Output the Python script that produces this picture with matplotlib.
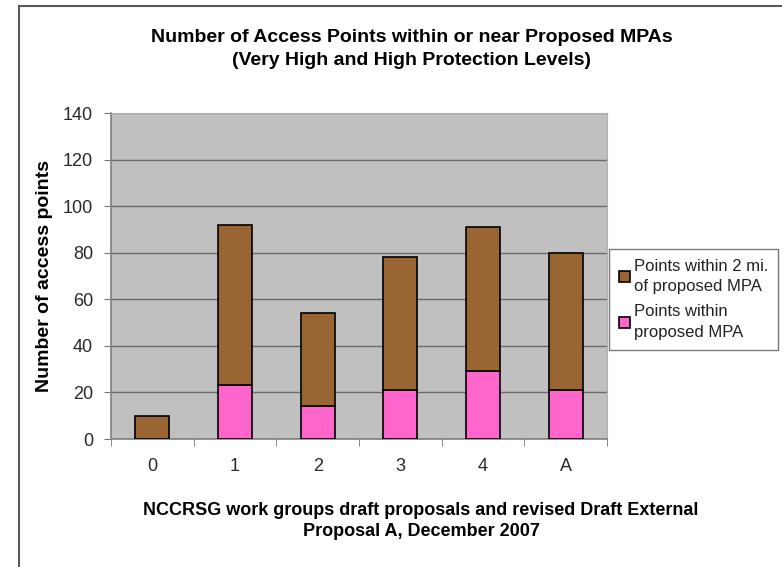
import numpy as np
import matplotlib.pyplot as plt
from matplotlib.patches import Rectangle

plt.rcParams['font.family'] = ['Liberation Sans', 'DejaVu Sans']

proposals = ['0', '1', '2', '3', '4', 'A']
within_mpa = [0, 23, 14, 21, 29, 21]
within_2mi = [10, 69, 40, 57, 62, 59]
y_ticks = [0, 20, 40, 60, 80, 100, 120, 140]

fig = plt.figure(figsize=(7.82, 5.67), dpi=100)
ax = fig.add_axes([111 / 782, 1 - 439 / 567, 496 / 782, 326 / 567])

x = np.arange(len(proposals))
ax.bar(x, within_mpa, width=0.41, color='#FF66CC', edgecolor='black',
       linewidth=1.2, label='Points within\nproposed MPA', zorder=3)
ax.bar(x, within_2mi, width=0.41, bottom=within_mpa, color='#996633',
       edgecolor='black', linewidth=1.2,
       label='Points within 2 mi.\nof proposed MPA', zorder=3)

ax.set_facecolor('#C0C0C0')
ax.set_xlim(-0.5, 5.5)
ax.set_ylim(0, 140)
ax.set_yticks(y_ticks)
ax.yaxis.grid(True, color='#6a6a6a', linewidth=1.0, zorder=0)
ax.set_axisbelow(True)

ax.set_xticks(x)
ax.set_xticklabels(proposals)
ax.set_xticks(np.arange(-0.5, 6, 1), minor=True)
ax.tick_params(axis='x', which='major', length=0, pad=14, labelsize=13,
               labelcolor='#2a2a2a')
ax.tick_params(axis='x', which='minor', length=5, color='#777777',
               direction='out')
ax.tick_params(axis='y', length=5, color='#777777', direction='out',
               labelsize=13, labelcolor='#2a2a2a', pad=8)

for s in ['top', 'right']:
    ax.spines[s].set_color('#b0b0b0')
    ax.spines[s].set_linewidth(0.8)
for s in ['left', 'bottom']:
    ax.spines[s].set_color('#808080')
    ax.spines[s].set_linewidth(1.2)

ax.set_ylabel('Number of access points', fontsize=14, fontweight='bold',
              labelpad=7)

fig.text(412 / 782, 1 - 49 / 567,
         'Number of Access Points within or near Proposed MPAs\n'
         '(Very High and High Protection Levels)',
         ha='center', va='center', fontsize=14, fontweight='bold',
         linespacing=1.4)
fig.text(421 / 782, 1 - 521 / 567,
         'NCCRSG work groups draft proposals and revised Draft External\n'
         'Proposal A, December 2007',
         ha='center', va='center', fontsize=13, fontweight='bold',
         linespacing=1.35)

handles, labels = ax.get_legend_handles_labels()
leg = fig.legend(handles[::-1], labels[::-1],
                 loc='upper left', bbox_to_anchor=(609 / 782, 1 - 249 / 567),
                 fontsize=12, frameon=True, fancybox=False,
                 edgecolor='#555555', handlelength=0.65, handleheight=0.65,
                 handletextpad=0.25, labelspacing=0.6, borderpad=0.6,
                 borderaxespad=0)
leg.get_frame().set_linewidth(1.0)
for t in leg.get_texts():
    t.set_linespacing(1.45)
    t.set_color('#222222')

# outer chart frame (extends past right and bottom edges)
fig.patches.append(Rectangle((19 / 782, -0.05), 1.1, 1 - 6 / 567 + 0.05,
                             transform=fig.transFigure, fill=False,
                             edgecolor='#5a5a5a', linewidth=1.5))

fig.savefig('out.png', dpi=100)
